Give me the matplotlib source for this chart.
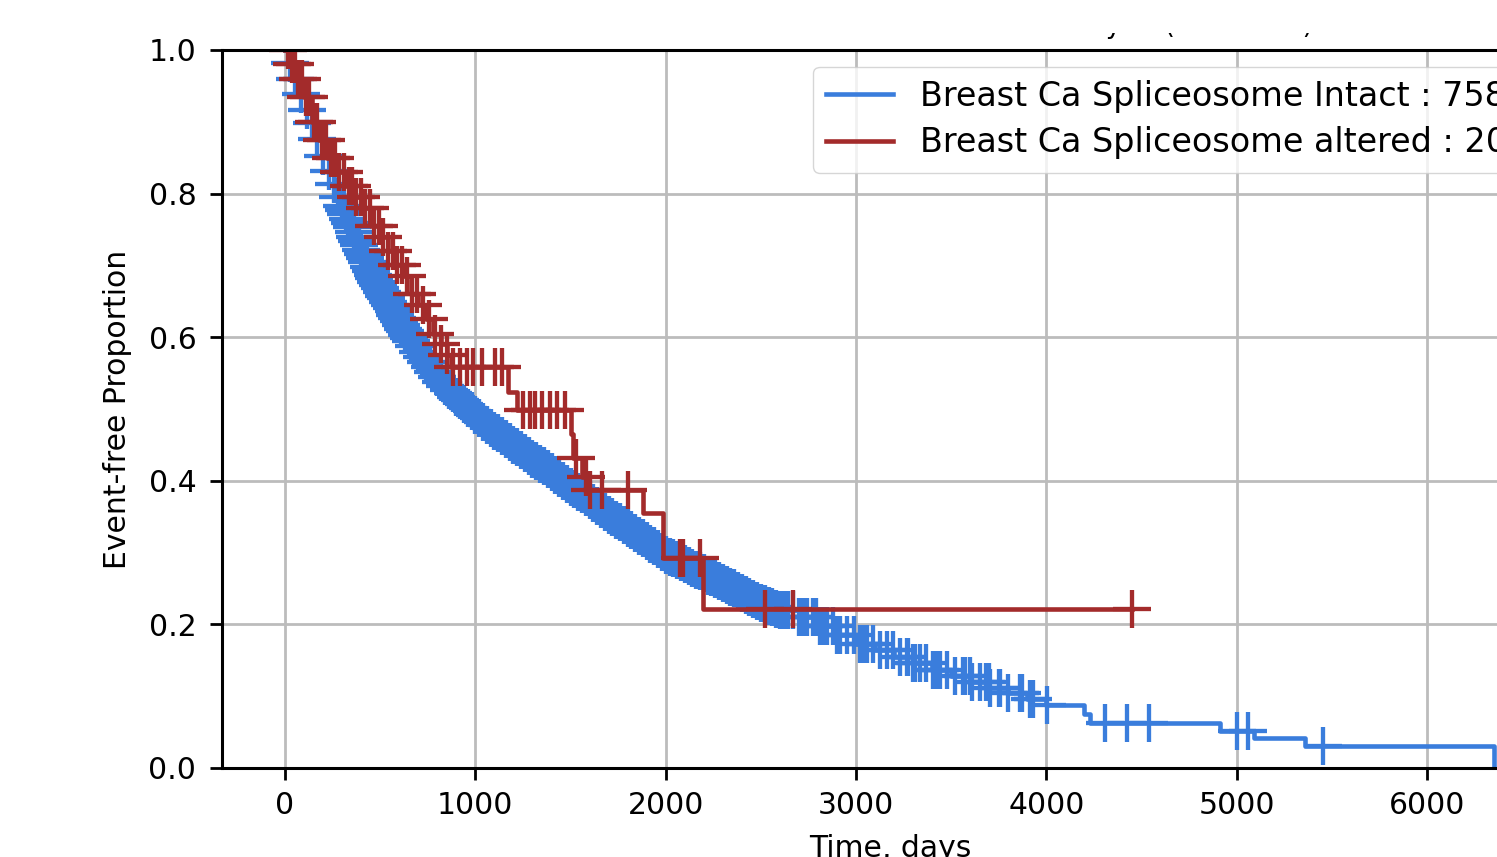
import numpy as np
import matplotlib
matplotlib.use("Agg")
import matplotlib.pyplot as plt
from matplotlib.patches import Rectangle

# Kaplan-Meier curves: time (days) -> proportion after the step.
# Up to ~2600 days the intact group is censored at almost every step (solid band).
intact_days = [0, 25, 55, 85, 115, 140, 170, 200, 230, 255, 280,
               300, 310, 320, 330, 340, 350, 360, 370, 380, 390, 400, 410, 420, 430,
               440, 450, 460, 470, 480, 490, 500, 510, 520, 530, 540, 550, 560, 570,
               580, 590, 600, 610, 620, 630, 640, 650, 660, 680, 700, 720, 740, 760,
               780, 800, 820, 840,
               860, 880, 900, 920, 940, 960, 980, 1000, 1020, 1040, 1060, 1080, 1100,
               1120, 1140, 1160, 1180, 1200, 1220, 1240, 1260, 1280, 1300, 1320, 1340,
               1360, 1380, 1400, 1420, 1440, 1460, 1480, 1500, 1520, 1540, 1560, 1580,
               1600, 1620, 1640, 1660, 1680, 1700, 1720, 1740, 1760, 1780, 1800, 1820,
               1840, 1860, 1880, 1900, 1920, 1940, 1960, 1980, 2000, 2020, 2040, 2060,
               2080, 2100, 2120, 2140, 2160, 2180, 2200, 2220, 2240, 2260, 2280, 2300,
               2320, 2340, 2360, 2380, 2400, 2420, 2440, 2460, 2480, 2500, 2520, 2540,
               2560, 2580, 2600,
               2700, 2800, 2900, 3000, 3100, 3200, 3300, 3400, 3500, 3600, 3700, 3800,
               3900, 4000, 4200, 4230, 4913, 5092, 5360, 6350]
intact_surv = [1.0, 0.982, 0.96, 0.938, 0.916, 0.898, 0.876, 0.853, 0.831, 0.813, 0.795,
               0.783, 0.777, 0.771, 0.765, 0.759, 0.753, 0.747, 0.740, 0.734, 0.728,
               0.722, 0.716, 0.710, 0.704, 0.698, 0.692, 0.687, 0.682, 0.677, 0.672,
               0.668, 0.663, 0.658, 0.654, 0.649, 0.645, 0.640, 0.636, 0.631, 0.627,
               0.622, 0.617, 0.612, 0.608, 0.603, 0.599, 0.594, 0.587, 0.580, 0.573,
               0.566, 0.559, 0.552, 0.545, 0.538, 0.532, 0.527, 0.522,
               0.517, 0.512, 0.507, 0.502, 0.497, 0.492, 0.487, 0.482, 0.477, 0.473,
               0.469, 0.466, 0.462, 0.458, 0.454, 0.450, 0.447, 0.443, 0.439, 0.435,
               0.431, 0.427, 0.424, 0.420, 0.416, 0.412, 0.408, 0.404, 0.400, 0.396,
               0.392, 0.388, 0.385, 0.381, 0.377, 0.373, 0.369, 0.365, 0.361, 0.357,
               0.353, 0.349, 0.346, 0.342, 0.338, 0.334, 0.331, 0.327, 0.323, 0.320,
               0.316, 0.312, 0.309, 0.305, 0.301, 0.297, 0.294, 0.292, 0.289, 0.287,
               0.284, 0.281, 0.279, 0.276, 0.274, 0.271, 0.268, 0.266, 0.263, 0.261,
               0.258, 0.255, 0.252, 0.250, 0.247, 0.244, 0.241, 0.238, 0.236, 0.233,
               0.230, 0.228, 0.226, 0.224, 0.222, 0.220,
               0.210, 0.198, 0.185, 0.173, 0.164, 0.155, 0.146, 0.137, 0.128, 0.120,
               0.112, 0.104, 0.096, 0.088, 0.075, 0.062, 0.051, 0.042, 0.031, 0.0]
intact_dense_until = 2600
intact_censored = [2620, 2645, 2670, 2700, 2722, 2740, 2775, 2790, 2811, 2830, 2848, 2880,
                   2900, 2917, 2953, 2990, 3021, 3040, 3058, 3090, 3127, 3160, 3195, 3230,
                   3268, 3273, 3300, 3310, 3337, 3370, 3405, 3420, 3440, 3480, 3520, 3562,
                   3573, 3599, 3610, 3652, 3680, 3699, 3704, 3752, 3757, 3800, 3862, 3873,
                   3915, 3931, 4004, 4309, 4424, 4540, 5002, 5061, 5454]

altered_days = [0, 30, 60, 100, 140, 180, 220, 270, 320, 360, 400, 450, 500, 540, 580,
                620, 660, 700, 740, 780, 820, 850, 870, 1172, 1219, 1500, 1515, 1560,
                1590, 1881, 1986, 2196]
altered_surv = [1.0, 0.98, 0.96, 0.935, 0.90, 0.875, 0.85, 0.83, 0.81, 0.795, 0.78,
                0.755, 0.74, 0.72, 0.70, 0.685, 0.66, 0.645, 0.625, 0.605, 0.59, 0.575,
                0.558, 0.524, 0.499, 0.465, 0.432, 0.405, 0.387, 0.355, 0.292, 0.222]
altered_censored = [15, 35, 52, 70, 90, 110, 128, 150, 170, 195, 215, 240, 262, 285, 310,
                    335, 352, 375, 398, 420, 445, 470, 492, 515, 540, 565, 590, 612, 640,
                    668, 695, 725, 755, 790, 820, 850, 883, 919, 956, 990, 1035, 1103,
                    1140, 1251, 1287, 1314, 1350, 1392, 1430, 1471, 1530, 1580, 1603,
                    1666, 1802, 2075, 2092, 2180, 2522, 2670, 4450]

labels = ["Breast Ca Spliceosome Intact : 7584", "Breast Ca Spliceosome altered : 205"]
colors = ["#3a7ddc", "#a32b2b"]
title = "Event-free Survival Analysis (Breast Ca)"

plt.rcParams["font.size"] = 21.5
plt.rcParams["axes.linewidth"] = 2.2
plt.rcParams["xtick.major.size"] = 8.5
plt.rcParams["ytick.major.size"] = 8.5
plt.rcParams["xtick.major.width"] = 2
plt.rcParams["ytick.major.width"] = 2
plt.rcParams["xtick.major.pad"] = 8
plt.rcParams["ytick.major.pad"] = 10

fig = plt.figure(figsize=(14.97, 8.57), dpi=100)
ax = fig.add_axes([0.1483, 0.1039, 0.8925, 0.8378])


def km_plot(days, surv, censored, color, label, end=None):
    days = np.array(days, dtype=float)
    surv = np.array(surv)
    x, y = days, surv
    if end is not None:
        x = np.append(days, end)
        y = np.append(surv, surv[-1])
    ax.plot(x, y, drawstyle="steps-post", color=color, lw=3.3, label=label)
    c = np.array(censored, dtype=float)
    idx = np.searchsorted(days, c, side="right") - 1
    ax.plot(c, surv[idx], "+", color=color, ms=28, mew=3.1, ls="none")


# censor marks of the intact group: every step in the dense part plus the late ones
intact_marks = [d for d in intact_days if 0 < d <= intact_dense_until] + intact_censored
km_plot(intact_days, intact_surv, intact_marks, colors[0], labels[0])
km_plot(altered_days, altered_surv, altered_censored, colors[1], labels[1],
        end=altered_censored[-1])

ax.set_xlim(-331, 6688)
ax.set_ylim(0, 1.0)
ax.set_yticks([0.0, 0.2, 0.4, 0.6, 0.8, 1.0])
ax.set_xticks([0, 1000, 2000, 3000, 4000, 5000, 6000])
ax.grid(True, color="#bcbcbc", lw=2)
ax.set_axisbelow(True)
ax.set_xlabel("Time, days", labelpad=10)
ax.set_ylabel("Event-free Proportion", labelpad=12)
ax.set_title(title, x=0.8166, ha="right", pad=12, fontsize=19)

ax.legend(loc="upper right", fontsize=24, borderaxespad=0.5, labelspacing=0.4)

# the source image is cropped just under the title: only its descenders show
fig.patches.append(Rectangle((0, 1 - 33 / 857), 1, 33 / 857, transform=fig.transFigure,
                             facecolor="white", edgecolor="none", zorder=10))

fig.savefig("out.png", dpi=100)
